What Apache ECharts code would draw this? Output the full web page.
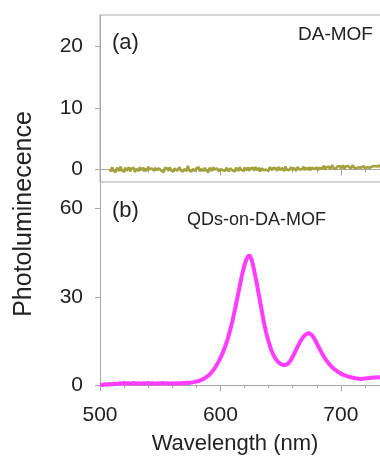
<!DOCTYPE html>
<html>
<head>
<meta charset="utf-8">
<script src="https://cdn.jsdelivr.net/npm/echarts@6/dist/echarts.min.js"></script>
<style>
html,body{margin:0;padding:0;background:#fff;}
#chart{width:380px;height:456px;}
</style>
</head>
<body>
<div id="chart"></div>
<script>
// Panel (a): DA-MOF, starts at 508 nm, 1 nm step
const daMofStart = 508;
const daMofValues = [
0.1,-0.3,0.4,-0.1,0.2,-0.4,0.3,0.0,-0.2,0.5,-0.1,0.2,-0.3,0.3,-0.2,0.1,0.4,-0.3,0.2,-0.1,
0.3,-0.4,0.1,0.2,-0.2,0.4,-0.1,0.0,0.3,-0.3,0.2,-0.2,0.5,0.0,-0.3,0.2,0.1,-0.2,0.3,-0.1,
-0.3,0.2,0.4,-0.2,0.1,-0.4,0.3,0.0,0.2,-0.2,0.4,-0.1,0.1,-0.3,0.2,0.3,-0.2,0.0,0.4,-0.1,
0.2,-0.3,0.1,0.3,-0.2,0.6,-0.1,0.2,-0.3,0.1,0.3,-0.2,0.2,-0.1,0.4,-0.3,0.1,0.2,-0.2,0.3,
-0.1,0.2,-0.4,0.3,0.1,-0.2,0.4,0.0,-0.2,0.2,0.3,-0.3,0.1,0.4,-0.1,0.2,-0.2,0.3,0.0,-0.3,
0.2,0.5,-0.1,0.1,-0.3,0.3,0.2,-0.2,0.4,0.0,0.2,-0.2,0.3,0.1,-0.1,0.4,-0.2,0.2,0.0,0.3,
-0.2,0.4,0.1,-0.1,0.3,-0.3,0.2,0.5,-0.1,0.2,0.0,0.3,-0.2,0.4,0.1,-0.1,0.3,0.0,0.2,-0.2,
0.4,0.1,-0.1,0.3,0.2,-0.2,0.5,0.0,0.3,-0.1,0.2,0.4,-0.1,0.3,0.1,-0.2,0.4,0.2,0.0,0.3,
0.1,0.5,-0.1,0.3,0.2,0.0,0.4,-0.1,0.3,0.6,0.1,0.2,0.4,-0.1,0.3,0.5,0.1,0.2,0.6,0.0,
0.4,0.2,0.5,0.1,0.3,0.7,0.2,0.4,0.1,0.5,0.3,0.6,0.2,0.4,0.7,0.1,0.5,0.3,0.6,0.4,
0.2,0.5,0.7,0.3,0.6,0.2,0.5,0.4,0.7,0.3,0.5,0.6,0.2,0.5,0.4,0.7,0.3,0.6,0.5,0.4,
0.6,0.3,0.5,0.4,0.7,0.3,0.5,0.6,0.4,0.7,0.5,0.3,0.6
];

// Panel (b): QDs-on-DA-MOF, starts at 500 nm, 2 nm step
const qdStart = 500;
const qdValues = [
0.2,0.0,0.3,0.1,0.4,0.2,0.5,0.3,0.6,0.4,
0.7,0.5,0.6,0.4,0.7,0.5,0.6,0.4,0.6,0.5,
0.7,0.5,0.6,0.4,0.6,0.5,0.7,0.5,0.6,0.4,
0.6,0.5,0.6,0.5,0.7,0.6,0.8,0.7,0.9,1.0,
1.2,1.4,1.7,2.1,2.6,3.2,4.0,5.0,6.2,7.6,
9.2,11.0,13.2,15.6,18.5,21.8,25.5,29.5,33.5,37.5,
40.8,43.2,44.2,42.5,39.0,35.0,30.5,26.0,21.5,17.8,
14.8,12.2,10.2,8.8,7.8,7.2,6.9,6.8,7.2,8.2,
9.6,11.3,13.0,14.6,15.9,16.9,17.5,17.6,17.0,15.8,
14.2,12.6,11.0,9.6,8.4,7.3,6.4,5.6,5.0,4.4,
3.9,3.5,3.2,2.9,2.7,2.5,2.3,2.2,2.1,2.1,
2.2,2.3,2.4,2.5,2.6,2.7,2.6,2.8,2.7,2.8,
2.7
];

const yTicksA = [0, 10, 20];
const yTicksB = [0, 30, 60];
const xTickLabels = [500, 600, 700];

const daMofData = daMofValues.map((v, i) => [daMofStart + i, v]);
const qdData = qdValues.map((v, i) => [qdStart + i * 2, v]);

const axisGray = '#a8a8a8';
const textColor = '#222';
const font = "'Liberation Sans', Arial, sans-serif";

const chart = echarts.init(document.getElementById('chart'), null, {renderer: 'canvas'});

function xAxisCfg(gridIndex, showLabels) {
  return {
    type: 'value', gridIndex: gridIndex, min: 500, max: 740, interval: 100,
    position: 'bottom',
    axisLine: {show: true, lineStyle: {color: axisGray, width: 1}},
    axisTick: {show: true, length: 6, lineStyle: {color: axisGray}},
    minorTick: {show: true, splitNumber: 5, length: 3, lineStyle: {color: axisGray}},
    splitLine: {show: false},
    axisLabel: {
      show: showLabels, margin: 17, fontSize: 21, color: textColor, fontFamily: font,
      customValues: xTickLabels
    }
  };
}
function yAxisCfg(gridIndex, min, max, ticks) {
  return {
    type: 'value', gridIndex: gridIndex, min: min, max: max,
    axisLine: {show: true, lineStyle: {color: axisGray, width: 1}},
    axisTick: {show: true, length: 5, lineStyle: {color: axisGray}, customValues: ticks},
    splitLine: {show: false},
    axisLabel: {
      show: true, margin: 17, fontSize: 21, color: textColor, fontFamily: font,
      customValues: ticks
    }
  };
}

chart.setOption({
  animation: false,
  backgroundColor: '#fff',
  grid: [
    {left: 100, top: 15, width: 289, height: 167, show: true, borderColor: axisGray, borderWidth: 1, backgroundColor: 'transparent', outerBoundsMode: 'none', containLabel: false},
    {left: 100, top: 182, width: 289, height: 206, show: false, outerBoundsMode: 'none', containLabel: false}
  ],
  xAxis: [xAxisCfg(0, false), xAxisCfg(1, true)],
  yAxis: [yAxisCfg(0, -2, 25, yTicksA), yAxisCfg(1, -1, 69, yTicksB)],
  series: [
    {
      type: 'line', xAxisIndex: 0, yAxisIndex: 0, data: daMofData,
      showSymbol: false, lineStyle: {color: '#a3a23e', width: 2.6}, silent: true
    },
    {
      type: 'line', xAxisIndex: 1, yAxisIndex: 1, data: qdData,
      showSymbol: false, lineStyle: {color: '#ff3cff', width: 4}, silent: true
    }
  ],
  graphic: [
    {type: 'text', left: 112, top: 32, style: {text: '(a)', fontSize: 22, fill: textColor, fontFamily: font}},
    {type: 'text', left: 298, top: 25, style: {text: 'DA-MOF', fontSize: 19, fill: textColor, fontFamily: font}},
    {type: 'text', left: 112, top: 200, style: {text: '(b)', fontSize: 22, fill: textColor, fontFamily: font}},
    {type: 'text', left: 187, top: 211, style: {text: 'QDs-on-DA-MOF', fontSize: 18, fill: textColor, fontFamily: font}},
    {type: 'text', x: 235, y: 444, style: {text: 'Wavelength (nm)', fontSize: 22, fill: textColor, fontFamily: font, align: 'center', verticalAlign: 'middle'}},
    {type: 'text', x: 24, y: 214, rotation: Math.PI / 2, style: {text: 'Photoluminecence', fontSize: 25, fill: textColor, fontFamily: font, align: 'center', verticalAlign: 'middle'}}
  ]
});
</script>
</body>
</html>
